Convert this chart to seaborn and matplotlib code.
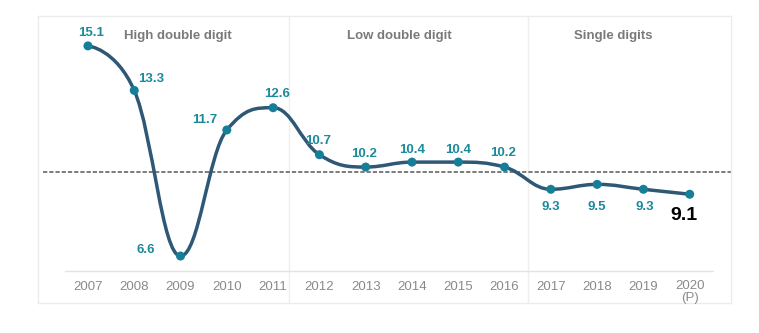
import numpy as np
import pandas as pd
import matplotlib
matplotlib.use("Agg")
import matplotlib.pyplot as plt
from matplotlib.path import Path
from matplotlib.patches import PathPatch
import seaborn as sns

years = [2007, 2008, 2009, 2010, 2011, 2012, 2013, 2014, 2015, 2016, 2017, 2018, 2019, 2020]
values = [15.1, 13.3, 6.6, 11.7, 12.6, 10.7, 10.2, 10.4, 10.4, 10.2, 9.3, 9.5, 9.3, 9.1]
tick_labels = ["2007", "2008", "2009", "2010", "2011", "2012", "2013", "2014",
               "2015", "2016", "2017", "2018", "2019", "2020\n(P)"]
sections = ["High double digit", "Low double digit", "Single digits"]
reference_level = 10.0

sns.set_style("white")
plt.rcParams['font.family'] = ['Liberation Sans', 'DejaVu Sans']

fig = plt.figure(figsize=(7.59, 3.33), dpi=100)
ax = fig.add_axes([0.050, 0.090, 0.913, 0.862])
ax.set_xlim(2005.92, 2020.89)
ax.set_ylim(4.70, 16.31)
for s in ax.spines.values():
    s.set_color("#ececec")
    s.set_linewidth(1.0)
ax.set_xticks([])
ax.set_yticks([])

line_col = "#2e5875"
mark_col = "#157f99"
lab_col = "#1b8a9a"

# section dividers
for xd in [2011.35, 2016.5]:
    ax.axvline(xd, color="#efefef", lw=1.0, zorder=1)

# baseline
ax.plot([2006.5, 2020.5], [6.0, 6.0], color="#e3e3e3", lw=1.0, zorder=1)

# dashed reference
ax.plot([2006.02, 2020.89], [reference_level] * 2, color="#7c7c7c", lw=1.4,
        ls=(0, (2.2, 1.0)), zorder=2)

# smooth spline (Highcharts-style control points)
xs = np.array(years, dtype=float)
ys = np.array(values, dtype=float)
n = len(xs)
lcx, lcy, rcx, rcy = xs.copy(), ys.copy(), xs.copy(), ys.copy()
for i in range(1, n - 1):
    x, y = xs[i], ys[i]
    xp, yp, xn, yn = xs[i - 1], ys[i - 1], xs[i + 1], ys[i + 1]
    lx = (1.5 * x + xp) / 2.5
    ly = (1.5 * y + yp) / 2.5
    rx = (1.5 * x + xn) / 2.5
    ry = (1.5 * y + yn) / 2.5
    corr = ((ry - ly) * (rx - x)) / (rx - lx) + y - ry
    ly += corr
    ry += corr
    if ly > yp and ly > y:
        ly = max(yp, y); ry = 2 * y - ly
    elif ly < yp and ly < y:
        ly = min(yp, y); ry = 2 * y - ly
    if ry > yn and ry > y:
        ry = max(yn, y); ly = 2 * y - ry
    elif ry < yn and ry < y:
        ry = min(yn, y); ly = 2 * y - ry
    lcx[i], lcy[i], rcx[i], rcy[i] = lx, ly, rx, ry

verts = [(xs[0], ys[0])]
codes = [Path.MOVETO]
for i in range(1, n):
    verts += [(rcx[i - 1], rcy[i - 1]), (lcx[i], lcy[i]), (xs[i], ys[i])]
    codes += [Path.CURVE4] * 3
ax.add_patch(PathPatch(Path(verts, codes), fill=False, edgecolor=line_col,
                       lw=2.5, capstyle="round", joinstyle="round", zorder=3))

df = pd.DataFrame({"year": years, "value": values})
sns.scatterplot(data=df, x="year", y="value", ax=ax, color=mark_col, s=42,
                edgecolor="none", zorder=4, legend=False)
ax.set_xlabel("")
ax.set_ylabel("")
ax.set_xlim(2005.92, 2020.89)
ax.set_ylim(4.70, 16.31)

# data labels (offsets in points)
offsets = [(2, 9), (12, 8), (-25, 4), (-16, 7), (3, 10), (-1, 10), (-1, 9.5),
           (0, 9), (0, 9), (-1, 10), (0, -13), (0, -16), (1, -13), (-4, -15)]
for i, (yr, v) in enumerate(zip(years, values)):
    dx, dy = offsets[i]
    last = i == n - 1
    ax.annotate(f"{v:.1f}", (yr, v), xytext=(dx, dy), textcoords="offset points",
                ha="center", va="center", fontsize=14 if last else 9.5,
                fontweight="bold", color="black" if last else lab_col, zorder=5)

# x labels
for yr, t in zip(years, tick_labels):
    multi = "\n" in t
    ax.text(yr, 5.62 if multi else 5.33, t, ha="center",
            va="top" if multi else "center",
            fontsize=9.5, color="#8a8a8a", linespacing=0.95)

# section titles
for xc, t in zip([2008.95, 2013.72, 2018.35], sections):
    ax.text(xc, 15.5, t, ha="center", va="center", fontsize=9.5,
            fontweight="bold", color="#7a7a7a")

fig.savefig("out.png", dpi=100)
